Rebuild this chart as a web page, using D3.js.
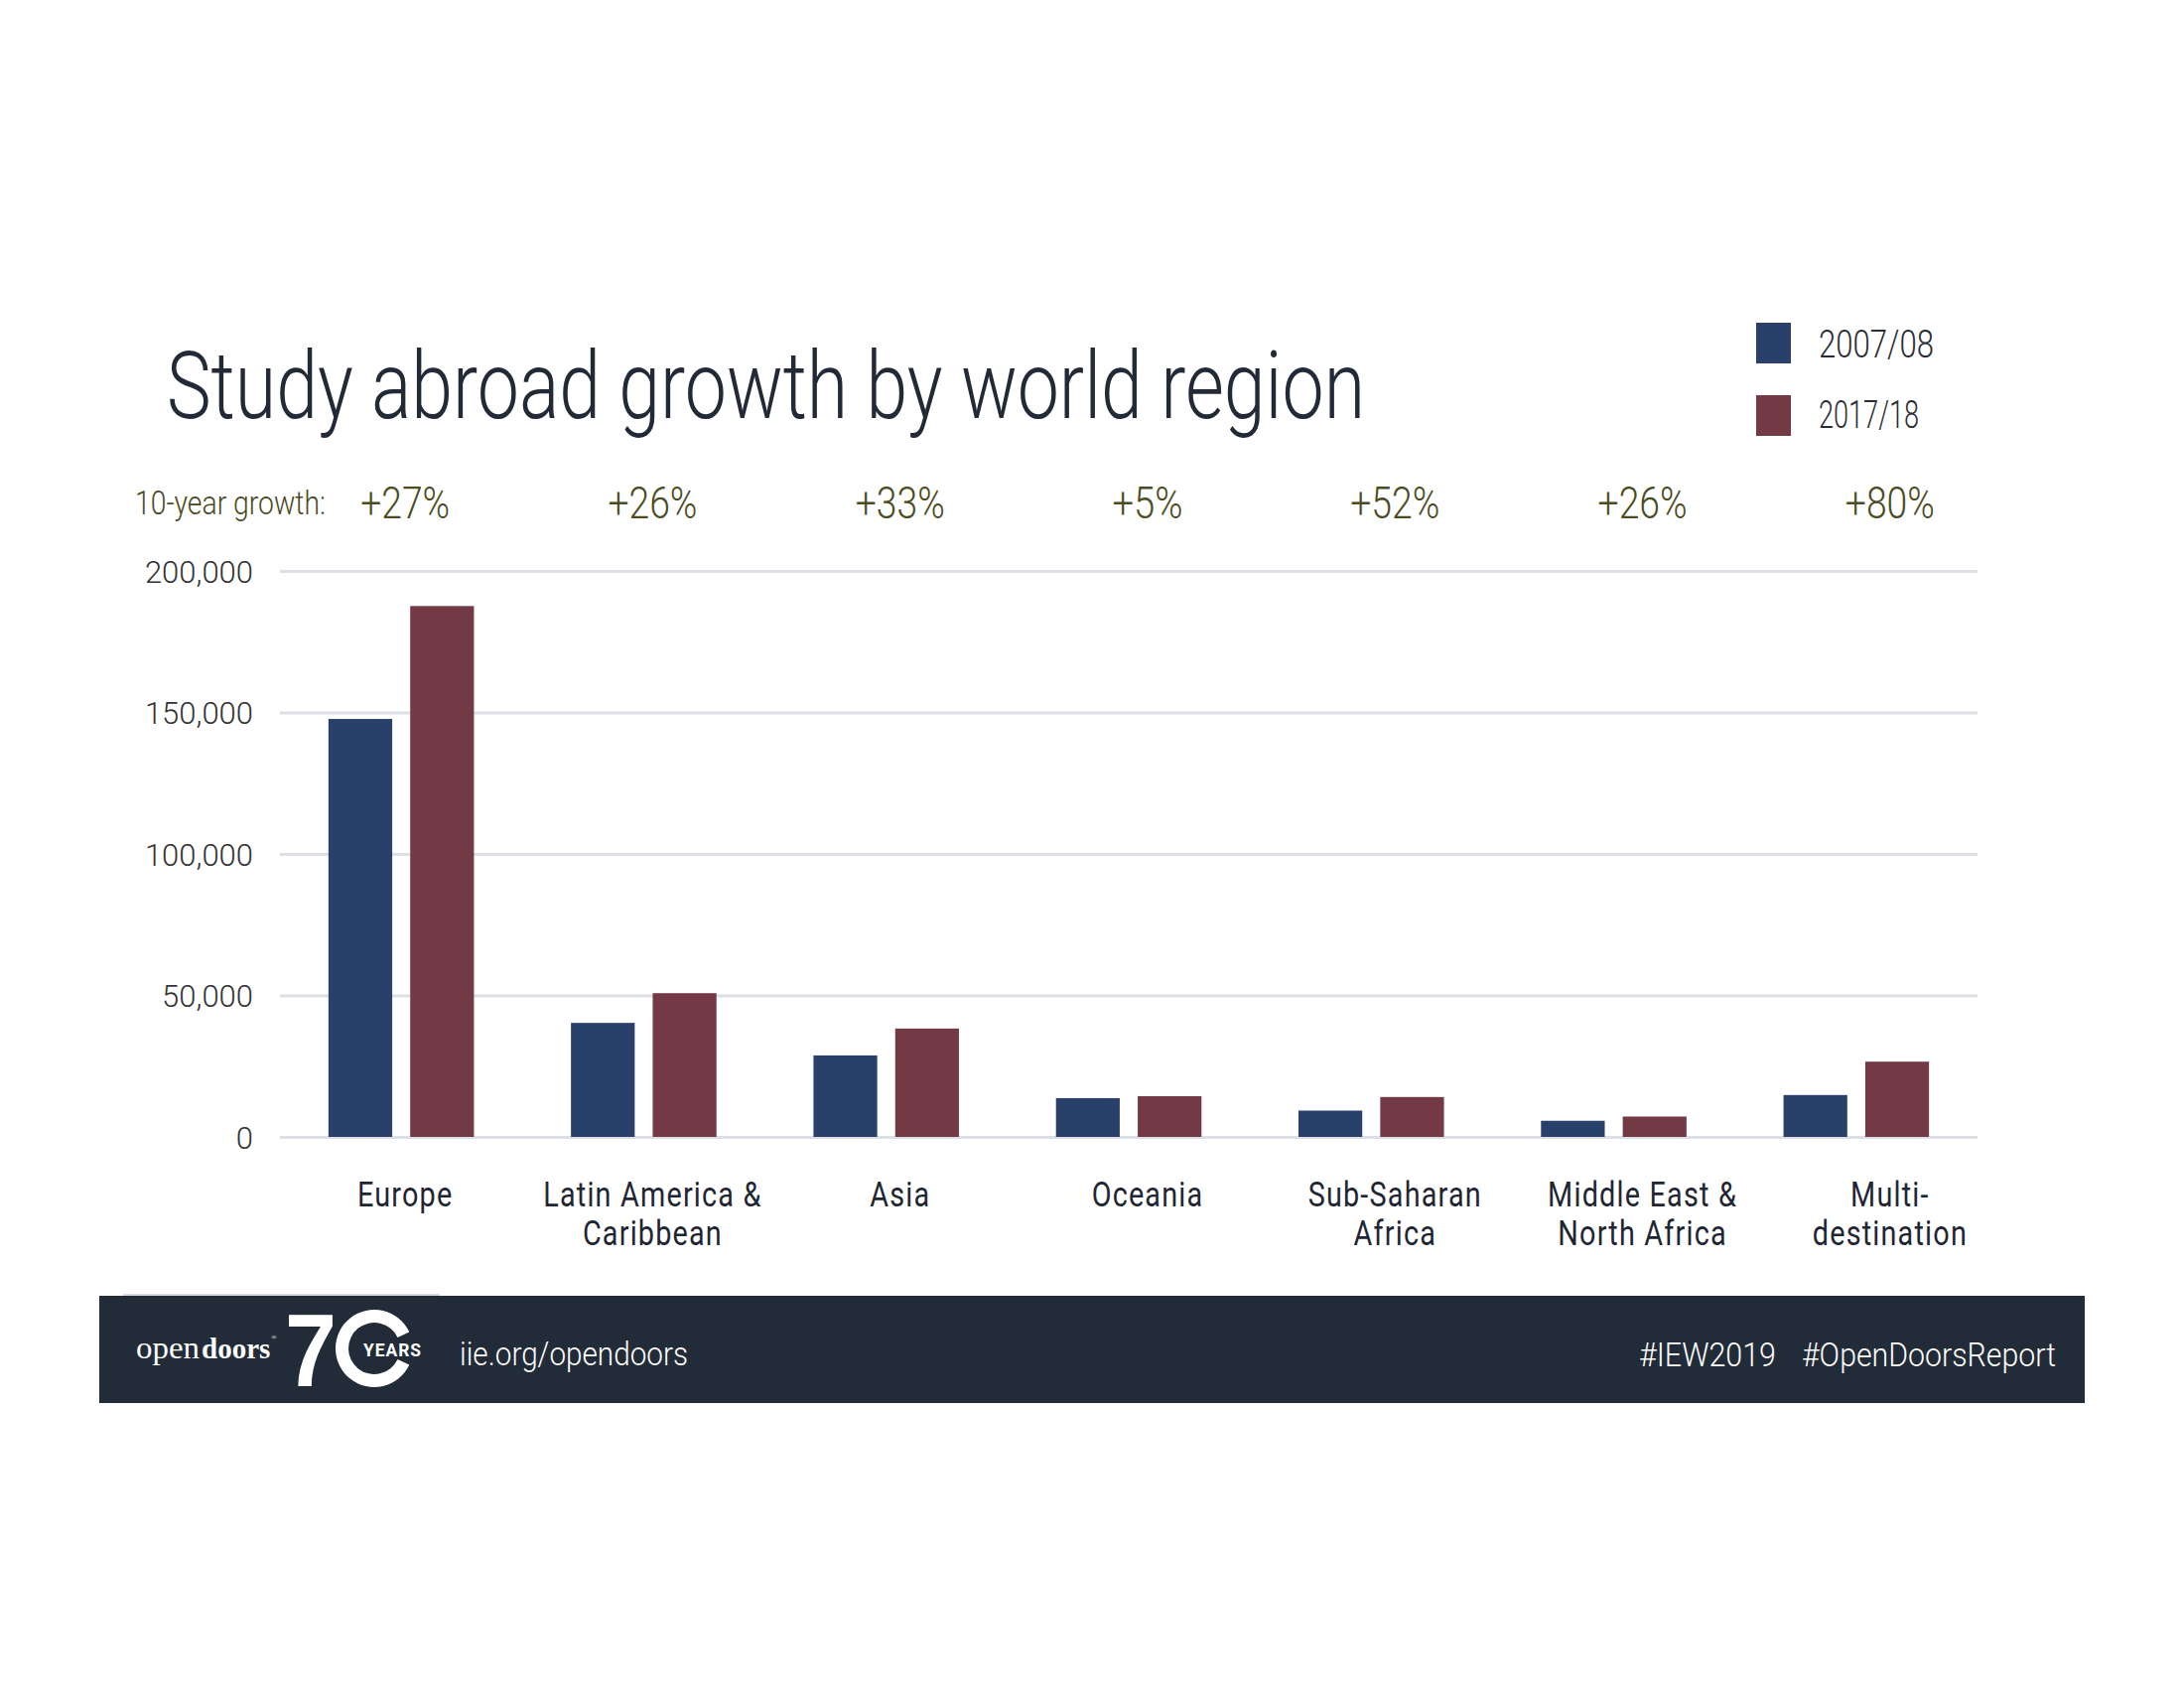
<!DOCTYPE html>
<html>
<head>
<meta charset="utf-8">
<script src="https://cdn.jsdelivr.net/npm/d3@7/dist/d3.min.js"></script>
<style>
  html, body { margin: 0; padding: 0; background: #ffffff; }
  svg { display: block; }
</style>
</head>
<body>
<script>
// ---------- data ----------
const categories = ["Europe", "Latin America & Caribbean", "Asia", "Oceania", "Sub-Saharan Africa", "Middle East & North Africa", "Multi-destination"];
const categoryLines = [["Europe"], ["Latin America &", "Caribbean"], ["Asia"], ["Oceania"], ["Sub-Saharan", "Africa"], ["Middle East &", "North Africa"], ["Multi-", "destination"]];
const series = ["2007/08", "2017/18"];
const values0708 = [147700, 40300, 28800, 13700, 9300, 5700, 14800];
const values1718 = [187600, 50800, 38300, 14400, 14100, 7200, 26600];
const growthLabels = ["+27%", "+26%", "+33%", "+5%", "+52%", "+26%", "+80%"];
const yTicks = [0, 50000, 100000, 150000, 200000];
const title = "Study abroad growth by world region";

// ---------- setup ----------
const W = 2200, H = 1700;
const svg = d3.select("body").append("svg").attr("width", W).attr("height", H);
const colors = { "2007/08": "#29416a", "2017/18": "#733a46" };
const FONT = "Roboto, 'Noto Sans', sans-serif";

function txt(g, s, x, y, size, opts = {}) {
  const t = g.append("text").attr("x", x).attr("y", y)
    .attr("font-family", opts.family || FONT)
    .attr("font-size", size)
    .attr("font-weight", opts.weight || 400)
    .attr("fill", opts.fill || "#222")
    .attr("text-anchor", opts.anchor || "start")
    .text(s);
  if (opts.width) t.attr("textLength", opts.width).attr("lengthAdjust", "spacingAndGlyphs");
  if (opts.ls) t.attr("letter-spacing", opts.ls);
  return t;
}

// scales
const plotL = 282, plotR = 1992;
const x0 = d3.scaleBand().domain(categories).range([plotL, plotR]).paddingInner(0.4).paddingOuter(0.2);
const x1 = d3.scaleBand().domain(series).range([0, x0.bandwidth()]).paddingInner(0.22);
const y = d3.scaleLinear().domain([0, 200000]).range([1145, 575]);
const cx = c => x0(c) + x0.bandwidth() / 2;
const labelX = d3.scalePoint().domain(categories)
  .range([cx(categories[0]) + 4, cx(categories[categories.length - 1]) + 34]);

// ---------- title ----------
txt(svg, title, 168, 421, 95, { fill: "#232a37", weight: 300, width: 1207 });

// ---------- legend ----------
const legend = svg.append("g");
series.forEach((s, i) => {
  legend.append("rect").attr("x", 1769).attr("y", 325 + i * 73).attr("width", 35).attr("height", 41).attr("fill", colors[s]);
  txt(legend, s, 1832, 360 + i * 71, 39, { fill: "#2a2d36", weight: 300, width: s === "2007/08" ? 116 : 101 });
});

// ---------- growth row ----------
txt(svg, "10-year growth:", 136, 518, 33, { fill: "#4a4a22", weight: 300, width: 192 });
svg.append("g").selectAll("text").data(categories).join("text")
  .attr("x", d => labelX(d))
  .attr("y", 522)
  .attr("text-anchor", "middle")
  .attr("font-family", FONT).attr("font-size", 44).attr("font-weight", 300)
  .attr("fill", "#4b4c1f")
  .attr("textLength", (d, i) => growthLabels[i].length === 3 ? 71 : 90)
  .attr("lengthAdjust", "spacingAndGlyphs")
  .text((d, i) => growthLabels[i]);

// ---------- grid + y axis ----------
const yAxis = d3.axisLeft(y).tickValues(yTicks).tickSize(-(plotR - plotL)).tickFormat(d3.format(","));
const gy = svg.append("g").attr("transform", `translate(${plotL},0)`).call(yAxis);
gy.select(".domain").remove();
gy.selectAll(".tick line").attr("stroke", "#dcdfe5").attr("stroke-width", 3);
gy.selectAll(".tick text")
  .attr("x", -27)
  .attr("dy", "0.36em")
  .attr("font-family", FONT)
  .attr("font-size", 31)
  .attr("font-weight", 300)
  .attr("fill", "#333");

// ---------- bars ----------
const rows = categories.map((c, i) => ({ cat: c, vals: [ { s: series[0], v: values0708[i] }, { s: series[1], v: values1718[i] } ] }));
const groups = svg.append("g").selectAll("g").data(rows).join("g")
  .attr("transform", d => `translate(${x0(d.cat)},0)`);
groups.selectAll("rect").data(d => d.vals).join("rect")
  .attr("x", d => x1(d.s))
  .attr("width", x1.bandwidth())
  .attr("y", d => y(d.v))
  .attr("height", d => y(0) - y(d.v))
  .attr("fill", d => colors[d.s]);

// ---------- category labels ----------
const cl = svg.append("g");
categories.forEach((c, i) => {
  categoryLines[i].forEach((line, j) => {
    cl.append("text")
      .attr("transform", `translate(${labelX(c)},${1215 + j * 39}) scale(0.8,1)`)
      .attr("text-anchor", "middle")
      .attr("font-family", FONT).attr("font-size", 36).attr("font-weight", 400)
      .attr("fill", "#1f2633")
      .attr("letter-spacing", 1.5)
      .text(line);
  });
});

// ---------- footer ----------
const foot = svg.append("g");
foot.append("line").attr("x1", 124).attr("x2", 443).attr("y1", 1304).attr("y2", 1304).attr("stroke", "#d5dbe0").attr("stroke-width", 2);
foot.append("rect").attr("x", 100).attr("y", 1305).attr("width", 2000).attr("height", 108).attr("fill", "#222b38");
// logo
txt(foot, "open", 137, 1368, 32, { fill: "#fff", weight: 400, family: "'Liberation Serif', serif", width: 64 });
const doors = txt(foot, "doors", 203, 1368, 29, { fill: "#fff", weight: 700, family: "'Liberation Serif', serif" });
doors.append("tspan").attr("font-size", 7).attr("font-weight", 400).attr("dx", 1).attr("dy", -19).text("®");
txt(foot, "7", 287, 1396, 104, { fill: "#fff", weight: 700, family: "'Liberation Sans', Arial, sans-serif", width: 52 });
const ring = d3.arc().innerRadius(26).outerRadius(39).startAngle(Math.PI * 0.64).endAngle(Math.PI * 2.36);
foot.append("path").attr("d", ring()).attr("transform", "translate(377,1358)").attr("fill", "#fff");
txt(foot, "YEARS", 366, 1366, 18, { fill: "#fff", weight: 700, width: 59, ls: 1 });
txt(foot, "iie.org/opendoors", 463, 1375, 33, { fill: "#fff", weight: 300, width: 230 });
txt(foot, "#IEW2019", 1651, 1376, 33, { fill: "#fff", weight: 300, width: 138 });
txt(foot, "#OpenDoorsReport", 1815, 1376, 33, { fill: "#fff", weight: 300, width: 256 });
</script>
</body>
</html>
